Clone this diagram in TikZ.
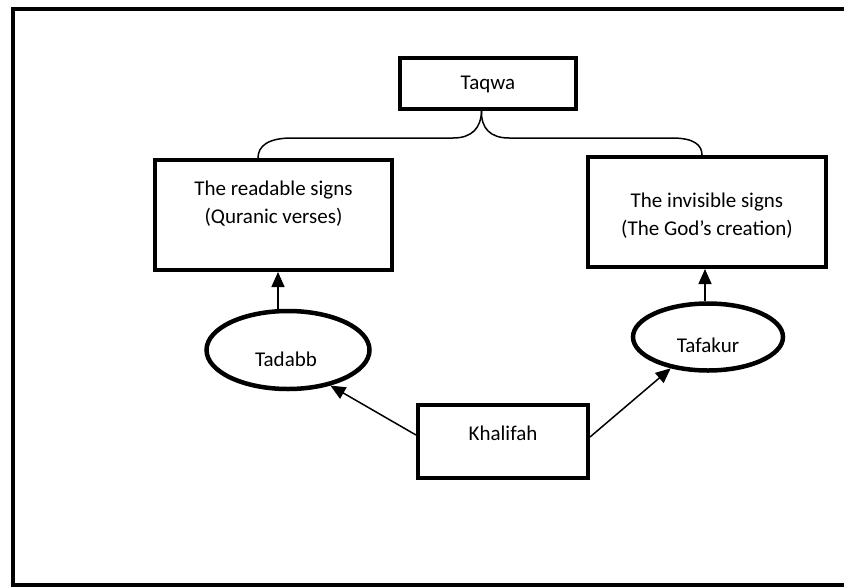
\documentclass[tikz,border=0pt]{standalone}
\usepackage{fontspec}
\setmainfont{Carlito}
\usetikzlibrary{arrows.meta,shapes.geometric}
\begin{document}
\begin{tikzpicture}[x=1pt,y=-1pt,
  every node/.style={font=\fontsize{21}{28}\selectfont},
  boxnode/.style={draw,rectangle,line width=4pt,inner sep=0pt},
  ellnode/.style={draw,ellipse,line width=4.5pt,inner sep=0pt},
  txt/.style={align=center,inner sep=0pt},
  thin line/.style={line width=1.5pt},
  arr/.style={line width=1.5pt,-{Triangle[length=15pt,width=13pt]}}]
\useasboundingbox (0,0) rectangle (844,587);
% outer frame
\draw[line width=4pt] (860,9) -- (12.5,9) -- (12.5,585) -- (860,585);
% nodes
\node[boxnode,minimum width=176pt,minimum height=51pt] (taqwa) at (488,83.5) {};
\node[txt] at (488,84) {Taqwa};
\node[boxnode,minimum width=237pt,minimum height=110pt] (readable) at (273.5,215) {};
\node[txt] at (273.5,204) {The readable signs\\(Quranic verses)};
\node[boxnode,minimum width=238pt,minimum height=110pt] (invisible) at (707,212) {};
\node[txt] at (707,216) {The invisible signs\\(The God’s creation)};
\node[ellnode,minimum width=163pt,minimum height=78pt] (tadabb) at (288,350) {};
\node[txt] at (286,359) {Tadabb};
\node[ellnode,minimum width=150pt,minimum height=67pt] (tafakur) at (708,337) {};
\node[txt] at (708,345) {Tafakur};
\node[boxnode,minimum width=170pt,minimum height=73pt] (khalifah) at (503,441) {};
\node[txt] at (503,433) {Khalifah};
% brace from Taqwa
\coordinate (b) at ([xshift=-6.5pt]taqwa.south);
\coordinate (bl) at ([xshift=-15.5pt]readable.north);
\coordinate (br) at ([xshift=-5pt]invisible.north);
\draw[thin line] (b) .. controls (481,128) and (472,138) .. (453,138) -- (292,138)
  .. controls (268,138) and (258,146) .. (bl);
\draw[thin line] (b) .. controls (481,128) and (490,138) .. (509,138) -- (672,138)
  .. controls (694,138) and (702,145) .. (br);
% arrows
\draw[arr] ([xshift=-10pt,yshift=-2pt]tadabb.north) -- ([xshift=4.5pt]readable.south);
\draw[arr] ([xshift=-3pt]tafakur.north) -- ([xshift=-2pt]invisible.south);
\draw[arr] ([yshift=6pt]khalifah.west) -- (tadabb.-40);
\draw[arr] ([yshift=4pt]khalifah.east) -- (tafakur.220);
\end{tikzpicture}
\end{document}
